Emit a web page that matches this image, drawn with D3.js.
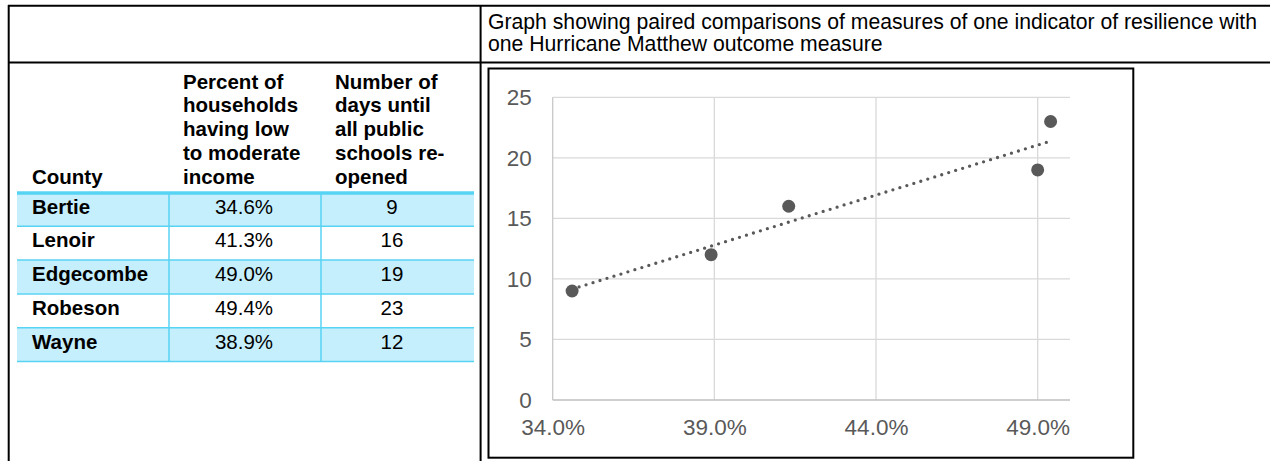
<!DOCTYPE html>
<html>
<head>
<meta charset="utf-8">
<script src="https://cdn.jsdelivr.net/npm/d3@7"></script>
<style>
  html, body { margin: 0; padding: 0; background: #fff; }
  svg { display: block; font-family: "Liberation Sans", Arial, sans-serif; }
</style>
</head>
<body>
<svg id="page" width="1270" height="461"></svg>
<script>
// County data: share of low/moderate-income households vs. days until schools re-opened
const counties = ["Bertie", "Lenoir", "Edgecombe", "Robeson", "Wayne"];
const lowModIncome = [0.346, 0.413, 0.490, 0.494, 0.389];
const daysToReopen = [9, 16, 19, 23, 12];

const headerCounty = ["County"];
const headerIncome = ["Percent of", "households", "having low", "to moderate", "income"];
const headerDays = ["Number of", "days until", "all public", "schools re-", "opened"];
const titleLines = [
  "Graph showing paired comparisons of measures of one indicator of resilience with",
  "one Hurricane Matthew outcome measure"
];

const xTicks = [0.34, 0.39, 0.44, 0.49];
const yTicks = [0, 5, 10, 15, 20, 25];

const svg = d3.select("#page");

// ---------- outer layout grid ----------
const frame = svg.append("g").attr("stroke", "#000").attr("stroke-width", 2);
frame.append("line").attr("x1", 8).attr("x2", 1270).attr("y1", 5.8).attr("y2", 5.8);
frame.append("line").attr("x1", 8).attr("x2", 1270).attr("y1", 62.5).attr("y2", 62.5);
frame.append("line").attr("x1", 8.7).attr("x2", 8.7).attr("y1", 5).attr("y2", 461);
frame.append("line").attr("x1", 480.6).attr("x2", 480.6).attr("y1", 5).attr("y2", 461);

// title in the upper-right cell
svg.append("g").selectAll("text").data(titleLines).join("text")
  .attr("x", 488).attr("y", (d, i) => 29 + i * 21.7)
  .attr("font-size", 21.2).attr("fill", "#000")
  .text(d => d);

// ---------- data table ----------
const cols = [
  { x0: 17, x1: 169, tx: 32, anchor: "start", bold: true },
  { x0: 169, x1: 321, tx: 244, anchor: "middle", bold: false },
  { x0: 321, x1: 474, tx: 392, anchor: "middle", bold: false }
];
const cyanLine = "#57d3f3";
const cyanFill = "#c6effd";

const rowScale = d3.scaleBand().domain(counties).range([192.5, 361.5]);
const rows = counties.map((c, i) => ({
  cells: [c, d3.format(".1%")(lowModIncome[i]), String(daysToReopen[i])],
  i
}));

const table = svg.append("g");
table.selectAll("rect.row").data(rows).join("rect")
  .attr("class", "row")
  .attr("x", cols[0].x0).attr("width", cols[2].x1 - cols[0].x0)
  .attr("y", d => rowScale(counties[d.i]))
  .attr("height", rowScale.bandwidth())
  .attr("fill", d => d.i % 2 === 0 ? cyanFill : "#fff");

// row separators
table.selectAll("line.rowsep").data(counties).join("line")
  .attr("class", "rowsep")
  .attr("x1", cols[0].x0).attr("x2", cols[2].x1)
  .attr("y1", d => rowScale(d) + rowScale.bandwidth())
  .attr("y2", d => rowScale(d) + rowScale.bandwidth())
  .attr("stroke", cyanLine).attr("stroke-width", 1.5);

// column separators
table.selectAll("line.colsep").data([cols[1].x0, cols[2].x0]).join("line")
  .attr("class", "colsep")
  .attr("x1", d => d).attr("x2", d => d)
  .attr("y1", 192.5).attr("y2", 361.5)
  .attr("stroke", cyanLine).attr("stroke-width", 1.5);

// thick rule under the header
table.append("line")
  .attr("x1", cols[0].x0).attr("x2", cols[2].x1)
  .attr("y1", 193).attr("y2", 193)
  .attr("stroke", cyanLine).attr("stroke-width", 3.5);

// header text, bottom aligned
const headerBase = 183.7, headerLead = 23.75;
[headerCounty, headerIncome, headerDays].forEach((lines, c) => {
  table.append("g").selectAll("text").data(lines).join("text")
    .attr("x", c === 0 ? 32 : cols[c].x0 + 14)
    .attr("y", (d, i) => headerBase - (lines.length - 1 - i) * headerLead)
    .attr("font-size", 20.5).attr("font-weight", "bold").attr("fill", "#000")
    .text(d => d);
});

// body text
rows.forEach(r => {
  r.cells.forEach((txt, c) => {
    table.append("text")
      .attr("x", cols[c].tx)
      .attr("y", rowScale(counties[r.i]) + 21)
      .attr("text-anchor", cols[c].anchor)
      .attr("font-size", 20.5)
      .attr("font-weight", cols[c].bold ? "bold" : "normal")
      .attr("fill", "#000")
      .text(txt);
  });
});

// ---------- scatter chart ----------
svg.append("rect")
  .attr("x", 488.5).attr("y", 68.5).attr("width", 644.8).attr("height", 389.2)
  .attr("fill", "#fff").attr("stroke", "#000").attr("stroke-width", 2);

const x = d3.scaleLinear().domain([0.34, 0.50]).range([552.7, 1070]);
const y = d3.scaleLinear().domain([0, 25]).range([400, 97.3]);

const chart = svg.append("g");

// horizontal gridlines
chart.append("g").selectAll("line").data(yTicks.filter(v => v > 0)).join("line")
  .attr("x1", x.range()[0]).attr("x2", x.range()[1])
  .attr("y1", d => y(d)).attr("y2", d => y(d))
  .attr("stroke", "#d9d9d9").attr("stroke-width", 1.3);

// vertical gridlines
chart.append("g").selectAll("line").data(xTicks.filter(v => v > 0.34)).join("line")
  .attr("x1", d => x(d)).attr("x2", d => x(d))
  .attr("y1", y(25)).attr("y2", y(0))
  .attr("stroke", "#d9d9d9").attr("stroke-width", 1.3);

// axis lines
chart.append("line")
  .attr("x1", x(0.34)).attr("x2", x(0.34)).attr("y1", y(25)).attr("y2", y(0))
  .attr("stroke", "#c8c8c8").attr("stroke-width", 1.3);
chart.append("line")
  .attr("x1", x.range()[0]).attr("x2", x.range()[1]).attr("y1", y(0)).attr("y2", y(0))
  .attr("stroke", "#bfbfbf").attr("stroke-width", 1.5);

// axes (labels only)
const yAxis = d3.axisLeft(y).tickValues(yTicks).tickFormat(d3.format("d")).tickSize(0).tickPadding(21);
const xAxis = d3.axisBottom(x).tickValues(xTicks).tickFormat(d3.format(".1%")).tickSize(0).tickPadding(19);

const gy = chart.append("g").attr("transform", `translate(${x.range()[0]},0)`).call(yAxis);
const gx = chart.append("g").attr("transform", `translate(0,${y(0)})`).call(xAxis);
[gy, gx].forEach(g => {
  g.select(".domain").remove();
  g.selectAll("text")
    .attr("font-family", "'Liberation Sans', Arial, sans-serif")
    .attr("font-size", 22.5).attr("fill", "#595959");
});

// least-squares trendline over the data range
const mx = d3.mean(lowModIncome), my = d3.mean(daysToReopen);
const sxy = d3.sum(lowModIncome, (v, i) => (v - mx) * (daysToReopen[i] - my));
const sxx = d3.sum(lowModIncome, v => (v - mx) * (v - mx));
const slope = sxy / sxx, intercept = my - slope * mx;
const xExt = d3.extent(lowModIncome);
chart.append("path")
  .datum(xExt.map(v => [v, intercept + slope * v]))
  .attr("d", d3.line().x(d => x(d[0])).y(d => y(d[1])))
  .attr("fill", "none").attr("stroke", "#595959")
  .attr("stroke-width", 3.3).attr("stroke-linecap", "round")
  .attr("stroke-dasharray", "0 7.3");

// points
chart.append("g").selectAll("circle").data(counties).join("circle")
  .attr("cx", (d, i) => x(lowModIncome[i]))
  .attr("cy", (d, i) => y(daysToReopen[i]))
  .attr("r", 6.5).attr("fill", "#595959");
</script>
</body>
</html>
